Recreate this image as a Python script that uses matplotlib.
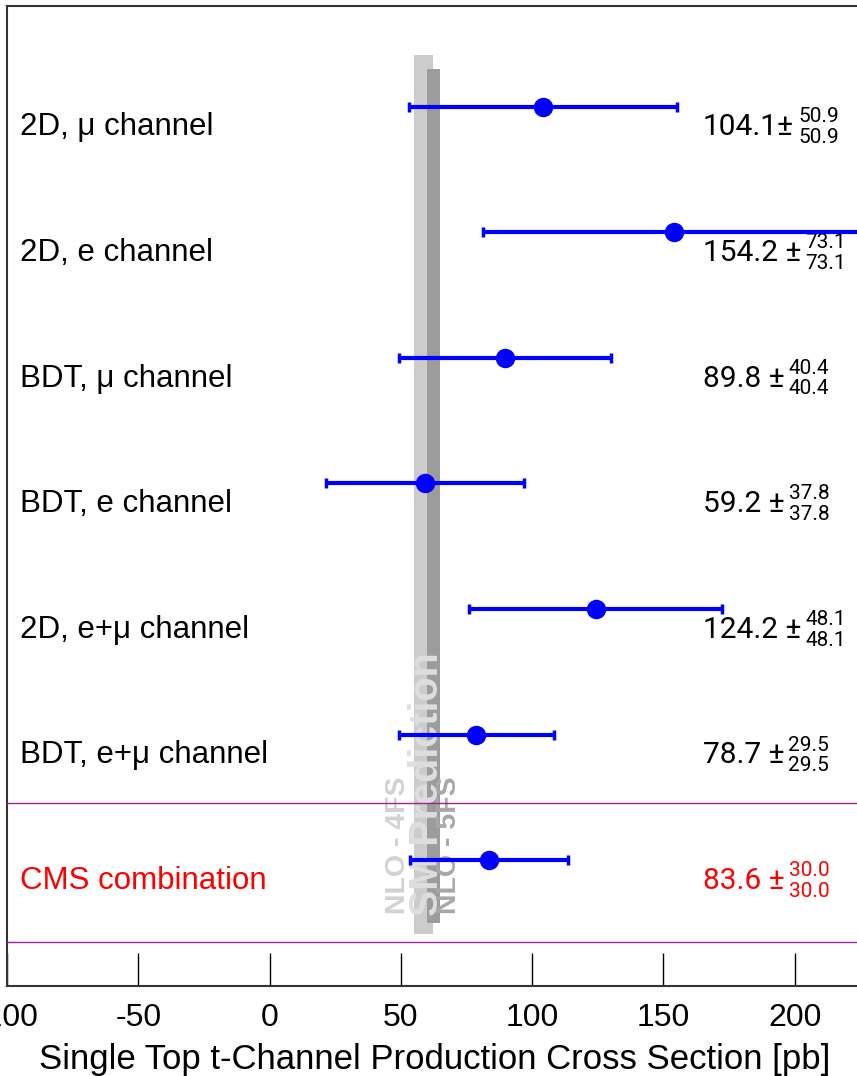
import matplotlib
matplotlib.use('Agg')
import matplotlib.pyplot as plt

plt.rcParams['axes.unicode_minus'] = False

# measurements, top to bottom
labels = ['2D, μ channel', '2D, e channel', 'BDT, μ channel', 'BDT, e channel',
          '2D, e+μ channel', 'BDT, e+μ channel', 'CMS combination']
xsec = [104.1, 154.2, 89.8, 59.2, 124.2, 78.7, 83.6]
err = [50.9, 73.1, 40.4, 37.8, 48.1, 29.5, 30.0]
seps = ['', ' ', ' ', ' ', ' ', ' ', ' ']
colors = ['black'] * 6 + ['red']
rows = [7, 6, 5, 4, 3, 2, 1]
ticks = [-100, -50, 0, 50, 100, 150, 200]

# SM prediction bands (NLO 4FS and 5FS)
band_4fs = (55.0, 62.2)
band_5fs = (60.0, 64.9)

fig = plt.figure(figsize=(8.57, 10.76), dpi=100)
ax = fig.add_axes([7 / 857, 90 / 1076, 919 / 857, 980 / 1076])
ax.set_xlim(-100, 250)
ax.set_ylim(0, 7.8)

ax.fill_betweenx([0.41, 7.41], band_4fs[0], band_4fs[1], color='#cccccc', lw=0, zorder=1)
ax.fill_betweenx([0.50, 7.30], band_5fs[0], band_5fs[1], color='#9c9c9c', lw=0, zorder=1)

ax.text(48.9, 0.57, 'NLO - 4FS', rotation=90, ha='center', va='bottom',
        fontsize=20.5, fontweight='bold', color='#d2d2d2', family='Liberation Sans', zorder=2)
ax.text(59.9, 0.56, 'SM Prediction', rotation=90, ha='center', va='bottom',
        fontsize=28.5, fontweight='bold', color='#dedede', family='Liberation Sans', zorder=2)
ax.text(68.3, 0.57, 'NLO - 5FS', rotation=90, ha='center', va='bottom',
        fontsize=20.5, fontweight='bold', color='#a8a8a8', family='Liberation Sans', zorder=2)

ax.errorbar(xsec, rows, xerr=err, fmt='o', color='#0000ff', ms=13, lw=3,
            capsize=3.3, capthick=2.5, zorder=4)

for y in (1.46, 0.35):
    ax.axhline(y, color='#a020a0', lw=1, zorder=3)

for r, lab, v, e, s, c in zip(rows, labels, xsec, err, seps, colors):
    ax.text(-95.2, r - 0.165, lab, ha='left', va='center', fontsize=22.5,
            family='Liberation Sans', color=c)
    main = ax.text(165, r - 0.165, f'{v:.1f}{s}±', ha='left', va='center',
                   fontsize=21.5, family='Roboto', color=c)
    for dy in (7.5, -7.5):
        ax.annotate(f'{e:.1f}', xy=(1, 0.5), xycoords=main, xytext=(3, dy),
                    textcoords='offset points', ha='left', va='center',
                    fontsize=15, family='Roboto', color=c)

ax.set_xticks(ticks)
ax.set_yticks([])
ax.tick_params(axis='x', direction='in', length=24, width=1, pad=12,
               labelsize=23, colors='black')
for lab in ax.get_xticklabels():
    lab.set_family('Liberation Sans')
for sp in ax.spines.values():
    sp.set_color('#333333')
    sp.set_linewidth(1.5)

ax.set_xlabel('Single Top t-Channel Production Cross Section [pb]', fontsize=25,
              family='Liberation Sans')
ax.xaxis.set_label_coords((435 - 7) / 919, -0.058)

fig.savefig('out.png', dpi=100)
